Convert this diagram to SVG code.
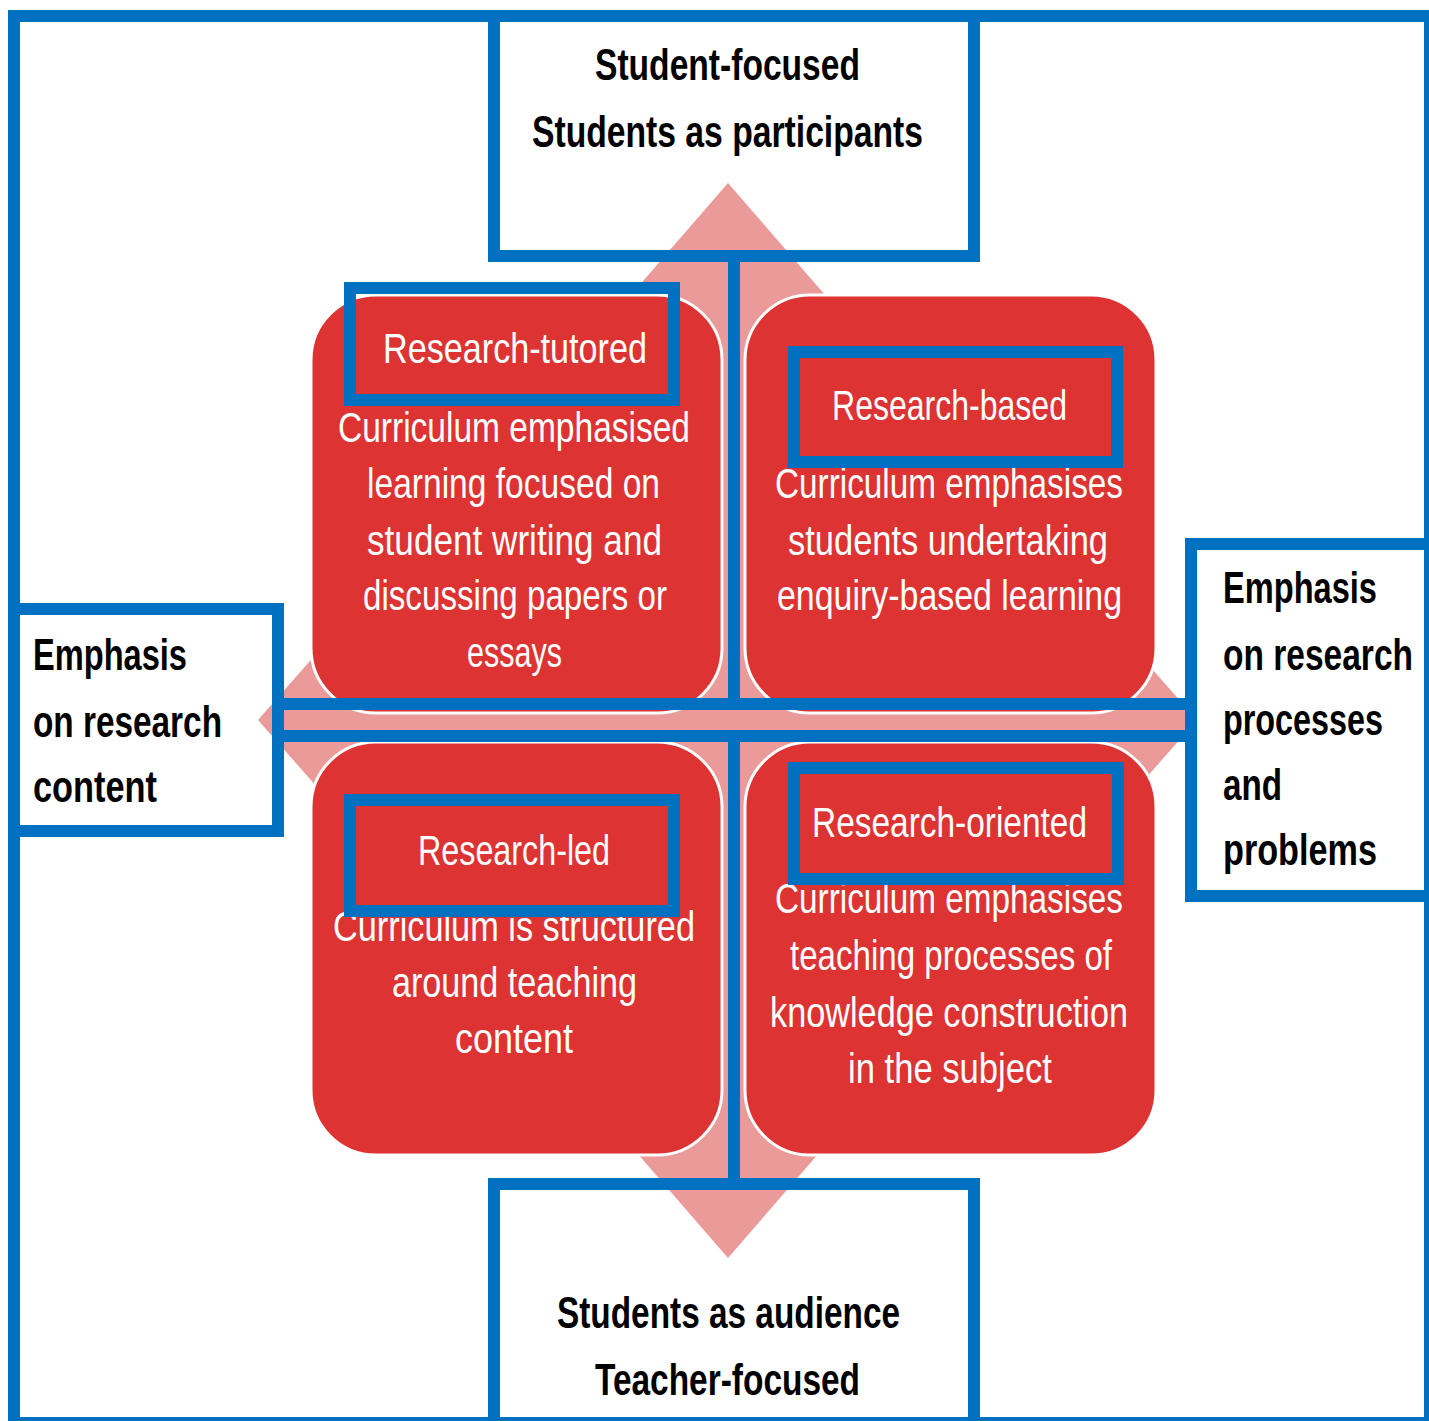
<svg xmlns="http://www.w3.org/2000/svg" width="1429" height="1421" viewBox="0 0 1429 1421">
<style>
.frame{fill:none;stroke:#0070C0;stroke-width:12}
.link{fill:none;stroke:#0070C0;stroke-width:12}
.quad{fill:#EB9A9A}
.cell{fill:#DD3333;stroke:#FFFFFF;stroke-width:3}
.btxt{font-family:"Liberation Sans Narrow","Liberation Sans",Arial,sans-serif;font-weight:bold;font-size:44px;fill:#000000}
.wtxt{font-family:"Liberation Sans Narrow","Liberation Sans",Arial,sans-serif;font-size:42px;fill:#FFFFFF}
</style>
<rect width="1429" height="1421" fill="#FFFFFF"/>
<polygon class="quad" points="728,183 858,333 778,333 778,670 1087,670 1087,595 1197,720 1087,845 1087,770 778,770 778,1108 858,1108 728,1258 598,1108 678,1108 678,770 368,770 368,845 258,720 368,595 368,670 678,670 678,333 598,333"/>
<g id="cell-tutored">
<rect class="cell" x="311" y="295" width="411" height="418" rx="65" ry="65"/>
<text class="wtxt" x="383" y="363" textLength="264" lengthAdjust="spacingAndGlyphs">Research-tutored</text>
<text class="wtxt" x="338" y="442" textLength="352" lengthAdjust="spacingAndGlyphs">Curriculum emphasised</text>
<text class="wtxt" x="367" y="498" textLength="293" lengthAdjust="spacingAndGlyphs">learning focused on</text>
<text class="wtxt" x="367" y="555" textLength="295" lengthAdjust="spacingAndGlyphs">student writing and</text>
<text class="wtxt" x="363" y="610" textLength="304" lengthAdjust="spacingAndGlyphs">discussing papers or</text>
<text class="wtxt" x="467" y="667" textLength="95" lengthAdjust="spacingAndGlyphs">essays</text>
<rect class="frame" x="350" y="288" width="324" height="112"/>
</g>
<g id="cell-based">
<rect class="cell" x="745" y="295" width="411" height="418" rx="65" ry="65"/>
<text class="wtxt" x="832" y="420" textLength="235" lengthAdjust="spacingAndGlyphs">Research-based</text>
<text class="wtxt" x="775" y="498" textLength="348" lengthAdjust="spacingAndGlyphs">Curriculum emphasises</text>
<text class="wtxt" x="788" y="555" textLength="320" lengthAdjust="spacingAndGlyphs">students undertaking</text>
<text class="wtxt" x="777" y="610" textLength="345" lengthAdjust="spacingAndGlyphs">enquiry-based learning</text>
<rect class="frame" x="794" y="352" width="323" height="110"/>
</g>
<g id="cell-led">
<rect class="cell" x="311" y="742" width="411" height="413" rx="65" ry="65"/>
<text class="wtxt" x="418" y="865" textLength="192" lengthAdjust="spacingAndGlyphs">Research-led</text>
<text class="wtxt" x="333" y="941" textLength="362" lengthAdjust="spacingAndGlyphs">Curriculum is structured</text>
<text class="wtxt" x="392" y="997" textLength="245" lengthAdjust="spacingAndGlyphs">around teaching</text>
<text class="wtxt" x="455" y="1053" textLength="118" lengthAdjust="spacingAndGlyphs">content</text>
<rect class="frame" x="350" y="800" width="324" height="111"/>
</g>
<g id="cell-oriented">
<rect class="cell" x="745" y="742" width="411" height="413" rx="65" ry="65"/>
<text class="wtxt" x="812" y="837" textLength="275" lengthAdjust="spacingAndGlyphs">Research-oriented</text>
<text class="wtxt" x="775" y="913" textLength="348" lengthAdjust="spacingAndGlyphs">Curriculum emphasises</text>
<text class="wtxt" x="790" y="970" textLength="322" lengthAdjust="spacingAndGlyphs">teaching processes of</text>
<text class="wtxt" x="770" y="1027" textLength="358" lengthAdjust="spacingAndGlyphs">knowledge construction</text>
<text class="wtxt" x="848" y="1083" textLength="204" lengthAdjust="spacingAndGlyphs">in the subject</text>
<rect class="frame" x="794" y="768" width="324" height="111"/>
</g>
<g id="connectors">
<line class="link" x1="734" y1="256" x2="734" y2="704"/>
<line class="link" x1="734" y1="736" x2="734" y2="1184"/>
<line class="link" x1="278" y1="704" x2="1191" y2="704"/>
<line class="link" x1="278" y1="736" x2="1191" y2="736"/>
</g>
<g id="outer-frame">
<rect class="frame" x="14" y="16" width="1416" height="1407"/>
</g>
<g id="top-node">
<rect class="frame" x="494" y="16" width="480" height="240"/>
<text class="btxt" x="595" y="80" textLength="265" lengthAdjust="spacingAndGlyphs">Student-focused</text>
<text class="btxt" x="532" y="147" textLength="391" lengthAdjust="spacingAndGlyphs">Students as participants</text>
</g>
<g id="bottom-node">
<rect class="frame" x="494" y="1184" width="480" height="239"/>
<text class="btxt" x="557" y="1328" textLength="343" lengthAdjust="spacingAndGlyphs">Students as audience</text>
<text class="btxt" x="595" y="1395" textLength="265" lengthAdjust="spacingAndGlyphs">Teacher-focused</text>
</g>
<g id="left-node">
<rect class="frame" x="14" y="609" width="264" height="222"/>
<text class="btxt" x="33" y="670" textLength="154" lengthAdjust="spacingAndGlyphs">Emphasis</text>
<text class="btxt" x="33" y="737" textLength="189" lengthAdjust="spacingAndGlyphs">on research</text>
<text class="btxt" x="33" y="802" textLength="124" lengthAdjust="spacingAndGlyphs">content</text>
</g>
<g id="right-node">
<rect class="frame" x="1191" y="544" width="239" height="352"/>
<g transform="translate(1223,0) scale(0.76,1)">
<text class="btxt" x="0" y="603" textLength="202.6" lengthAdjust="spacingAndGlyphs">Emphasis</text>
<text class="btxt" x="0" y="670" textLength="250" lengthAdjust="spacingAndGlyphs">on research</text>
<text class="btxt" x="0" y="735" textLength="210.5" lengthAdjust="spacingAndGlyphs">processes</text>
<text class="btxt" x="0" y="800" textLength="77.6" lengthAdjust="spacingAndGlyphs">and</text>
<text class="btxt" x="0" y="865" textLength="202.6" lengthAdjust="spacingAndGlyphs">problems</text>
</g>
</g>
</svg>
